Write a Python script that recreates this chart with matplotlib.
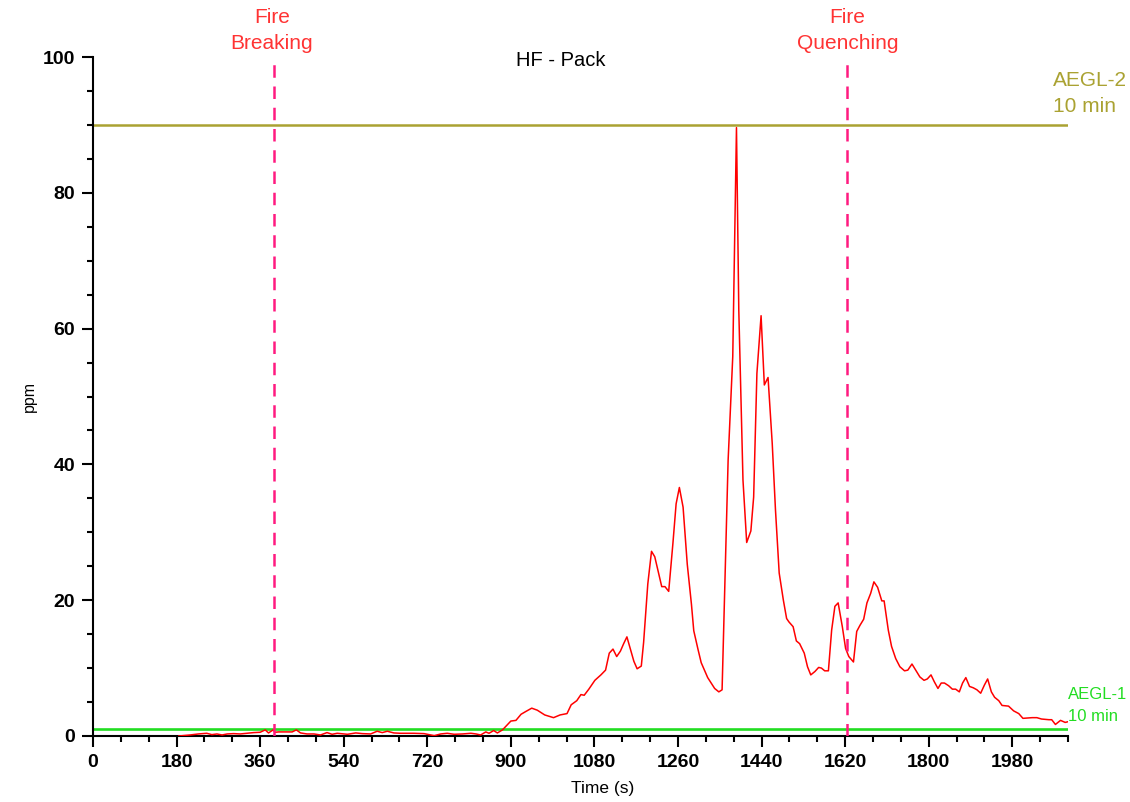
import matplotlib
matplotlib.use('Agg')
import matplotlib.pyplot as plt
from matplotlib.ticker import MultipleLocator

plt.rcParams['font.family'] = ['Liberation Sans', 'DejaVu Sans']

# HF concentration (time in s, ppm)
time_s = [185, 209, 227, 245, 256, 267, 278, 289, 303, 317, 332, 346, 360, 371, 378,
          388, 392, 400, 418, 429, 438, 447, 461, 476, 490, 504, 515, 526, 548, 566,
          580, 598, 612, 623, 634, 648, 662, 677, 691, 713, 735, 749, 763, 778, 796,
          814, 825, 835, 846, 853, 863, 871, 882, 893, 900, 911, 922, 932, 945, 957,
          973, 992, 1006, 1021, 1030, 1042, 1051, 1058, 1068, 1081, 1094, 1104, 1112,
          1120, 1128, 1136, 1143, 1150, 1165, 1172, 1181, 1186, 1195, 1203, 1210, 1225,
          1232, 1240, 1249, 1256, 1263, 1271, 1280, 1289, 1294, 1303, 1310, 1324, 1339,
          1348, 1355, 1368, 1378, 1386, 1391, 1400, 1408, 1417, 1423, 1430, 1439, 1446,
          1454, 1463, 1470, 1478, 1487, 1494, 1499, 1508, 1515, 1522, 1532, 1539, 1546,
          1555, 1563, 1569, 1576, 1584, 1591, 1598, 1605, 1614, 1621, 1628, 1638, 1645,
          1652, 1660, 1667, 1675, 1682, 1690, 1699, 1704, 1713, 1720, 1729, 1738, 1748,
          1755, 1764, 1772, 1781, 1790, 1797, 1805, 1812, 1820, 1827, 1834, 1843, 1851,
          1858, 1866, 1873, 1880, 1888, 1896, 1904, 1912, 1920, 1927, 1935, 1942, 1951,
          1958, 1972, 1983, 1994, 2003, 2023, 2033, 2043, 2059, 2065, 2073, 2084, 2094, 2100]
hf_ppm = [0.0, 0.15, 0.3, 0.4, 0.2, 0.3, 0.15, 0.3, 0.35, 0.3, 0.4, 0.5, 0.55, 0.9, 0.45,
          0.9, 0.55, 0.6, 0.6, 0.6, 0.9, 0.45, 0.3, 0.3, 0.15, 0.5, 0.25, 0.4, 0.25, 0.45,
          0.35, 0.3, 0.7, 0.5, 0.7, 0.45, 0.4, 0.4, 0.4, 0.35, 0.05, 0.3, 0.4, 0.25, 0.3,
          0.4, 0.3, 0.15, 0.6, 0.4, 0.8, 0.45, 0.9, 1.7, 2.2, 2.3, 3.2, 3.6, 4.1, 3.8,
          3.1, 2.7, 3.1, 3.3, 4.6, 5.2, 6.1, 6.0, 6.9, 8.2, 9.0, 9.7, 12.2,
          12.8, 11.7, 12.5, 13.6, 14.6, 11.0, 9.9, 10.3, 13.8, 22.4, 27.2, 26.4, 22.0,
          22.0, 21.3, 28.3, 34.2, 36.6, 33.7, 25.3, 19.4, 15.5, 12.8, 10.8, 8.6, 7.0,
          6.5, 6.8, 40.6, 55.9, 89.6, 62.7, 37.7, 28.5, 30.2, 35.2, 53.4, 61.9, 51.7,
          52.8, 43.1, 33.3, 24.0, 20.0, 17.3, 16.8, 16.1, 14.0, 13.6, 12.2, 10.2, 9.0,
          9.5, 10.1, 10.0, 9.6, 9.6, 15.6, 19.1, 19.6, 16.1, 12.9, 11.7, 10.9, 15.4,
          16.3, 17.2, 19.6, 21.0, 22.7, 21.9, 19.9, 19.9, 15.6, 13.2, 11.4, 10.2, 9.6,
          9.7, 10.6, 9.7, 8.7, 8.2, 8.4, 9.0, 8.0, 7.0, 7.8, 7.8, 7.4, 6.9,
          6.9, 6.5, 7.8, 8.6, 7.3, 7.1, 6.8, 6.3, 7.5, 8.4, 6.5, 5.7, 5.2,
          4.5, 4.4, 3.7, 3.3, 2.6, 2.7, 2.7, 2.5, 2.4, 2.4, 1.7, 2.3, 2.0, 2.1]

aegl1 = 1.0
aegl2 = 90.0
fire_breaking = 390
fire_quenching = 1625

fig = plt.figure(figsize=(11.3, 8.02), dpi=100)
ax = fig.add_axes([0.0823, 0.0823, 0.8628, 0.8466])

ax.axhline(aegl2, color='#aaa232', linewidth=1.8, zorder=2)
ax.axhline(aegl1, color='#22dd22', linewidth=1.9, zorder=2)
ax.plot(time_s, hf_ppm, color='#ff0000', linewidth=1.1, zorder=3)
ax.axvline(fire_breaking, color='#ff1a80', linewidth=1.8, dashes=(5, 3.5), zorder=4)
ax.axvline(fire_quenching, color='#ff1a80', linewidth=1.8, dashes=(5, 3.5), zorder=4)

ax.set_xlim(0, 2100)
ax.set_ylim(0, 100)
ax.xaxis.set_major_locator(MultipleLocator(180))
ax.xaxis.set_minor_locator(MultipleLocator(60))
ax.yaxis.set_major_locator(MultipleLocator(20))
ax.yaxis.set_minor_locator(MultipleLocator(5))

for s in ['top', 'right']:
    ax.spines[s].set_visible(False)
for s in ['left', 'bottom']:
    ax.spines[s].set_linewidth(1.5)
ax.tick_params(which='major', direction='out', length=8, width=1.5, labelsize=14, pad=5)
ax.tick_params(which='minor', direction='out', length=4, width=1.5)
for lab in ax.get_xticklabels() + ax.get_yticklabels():
    lab.set_fontweight('bold')

ax.set_xlabel('Time (s)', fontsize=12.5)
ax.xaxis.set_label_coords(0.523, -0.066)
ax.set_ylabel('ppm', fontsize=11.5)
ax.yaxis.set_label_coords(-0.058, 0.5)

ax.text(1008, 99.5, 'HF - Pack', fontsize=14.5, ha='center', va='center')
ax.text(fire_breaking - 5, 103.9, 'Fire\nBreaking', color='#ff3333', fontsize=15,
        ha='center', va='center', linespacing=1.45, clip_on=False)
ax.text(fire_quenching, 103.9, 'Fire\nQuenching', color='#ff3333', fontsize=15,
        ha='center', va='center', linespacing=1.45, clip_on=False)
ax.text(2067, 94.6, 'AEGL-2\n10 min', color='#aaa232', fontsize=15,
        ha='left', va='center', linespacing=1.45, clip_on=False)
ax.text(2101, 4.5, 'AEGL-1\n10 min', color='#22dd22', fontsize=12,
        ha='left', va='center', linespacing=1.6, clip_on=False)

plt.savefig('out.png', dpi=100)
